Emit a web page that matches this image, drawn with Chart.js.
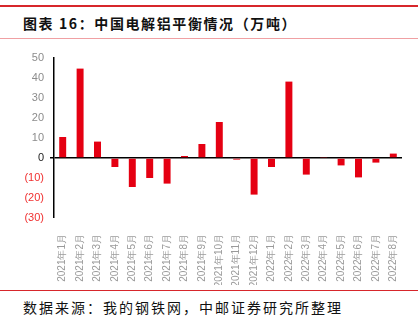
<!DOCTYPE html>
<html>
<head>
<meta charset="utf-8">
<script src="https://cdn.jsdelivr.net/npm/chart.js@4/dist/chart.umd.min.js"></script>
<style>
  body { margin: 0; width: 418px; height: 333px; background: #fff; position: relative; overflow: hidden; font-family: "Noto Sans CJK SC", sans-serif; }
  .topline { position: absolute; left: 0; top: 5px; width: 418px; height: 2px; background: #d7262b; }
  .title { position: absolute; left: 23px; top: 13px; font-size: 14px; font-weight: bold; letter-spacing: 1.6px; color: #111; }
  .subline { position: absolute; left: 0; top: 38px; width: 418px; height: 1px; background: #f0a0a3; }
  .bottomline { position: absolute; left: 0; top: 290px; width: 418px; height: 1px; background: #d7262b; }
  .source { position: absolute; left: 23px; top: 297px; font-size: 14px; letter-spacing: 2px; color: #111; }
  #wrap { position: absolute; left: 0; top: 45px; width: 418px; height: 240px; }
</style>
</head>
<body>
<div class="topline"></div>
<div class="title">图表 16：中国电解铝平衡情况（万吨）</div>
<div class="subline"></div>
<div id="wrap"><canvas id="balanceChart"></canvas></div>
<div class="bottomline"></div>
<div class="source">数据来源：我的钢铁网，中邮证券研究所整理</div>
<script>
"use strict";

// monthly balance, 10k tonnes
var months = ["2021年1月", "2021年2月", "2021年3月", "2021年4月", "2021年5月", "2021年6月",
  "2021年7月", "2021年8月", "2021年9月", "2021年10月", "2021年11月", "2021年12月",
  "2022年1月", "2022年2月", "2022年3月", "2022年4月", "2022年5月", "2022年6月",
  "2022年7月", "2022年8月"];
var balance = [10.5, 44.7, 8.2, -4.5, -14.5, -10, -12.8, 1, 7, 18,
  -0.8, -18.3, -4.5, 38.2, -8.3, 0.5, -3.7, -9.7, -2.3, 2.2];
var yTicks = [50, 40, 30, 20, 10, 0, -10, -20, -30];

var ctx = document.getElementById("balanceChart").getContext('2d');
var myChart = new Chart(ctx, {
  type: 'bar',
  data: {
    labels: months,
    datasets: [{
      data: balance,
      backgroundColor: '#e50012',
      barPercentage: 0.4,
      categoryPercentage: 1.0,
    }],
  },
  options: {
    responsive: true,
    maintainAspectRatio: false,
    animation: false,
    layout: { padding: { top: 13, right: 16, left: 0, bottom: 0 } },
    plugins: {
      legend: { display: false },
      tooltip: { enabled: false },
    },
    scales: {
      x: {
        grid: { display: false },
        border: { display: false },
        ticks: {
          color: '#9a9a9a',
          font: { family: 'Liberation Sans', size: 10 },
          minRotation: 90,
          maxRotation: 90,
          autoSkip: false,
          padding: 8,
        },
        afterFit: function (scale) { scale.height = 67; },
      },
      y: {
        min: -30,
        max: 50,
        afterBuildTicks: function (scale) {
          scale.ticks = yTicks.map(function (v) { return { value: v }; });
        },
        border: { display: true, color: '#000', width: 1.5 },
        grid: {
          drawTicks: true,
          tickLength: 4,
          tickColor: '#000',
          lineWidth: function (c) { return c.tick && c.tick.value === 0 ? 1.5 : 0; },
          color: function (c) { return c.tick && c.tick.value === 0 ? '#000' : 'rgba(0,0,0,0)'; },
        },
        ticks: {
          padding: 6,
          font: { family: 'Liberation Sans', size: 11 },
          color: function (c) {
            var v = c.tick.value;
            if (v < 0) return '#f03030';
            if (v === 0) return '#222';
            return '#8c8c8c';
          },
          callback: function (v) { return v < 0 ? '(' + Math.abs(v) + ')' : v; },
        },
        afterFit: function (scale) { scale.width = 54; },
      },
    },
  }
});
</script>
</body>
</html>
